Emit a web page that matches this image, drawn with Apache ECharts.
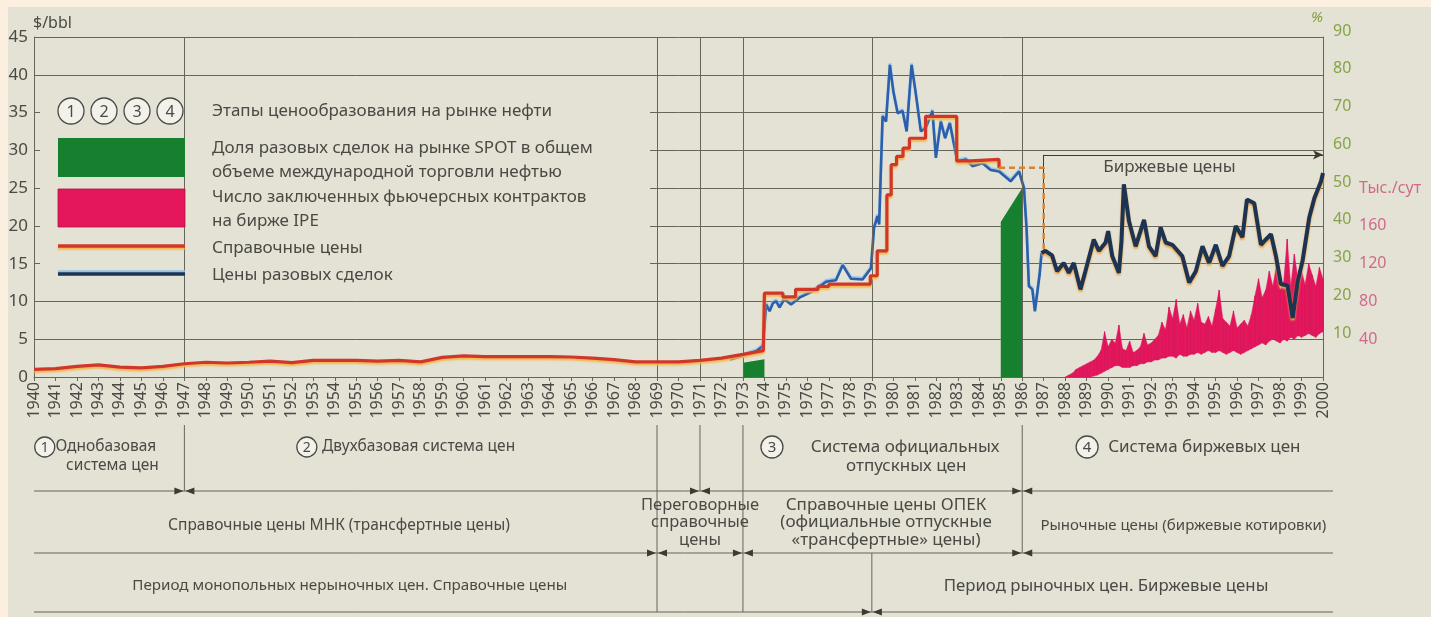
<!DOCTYPE html>
<html>
<head>
<meta charset="utf-8">
<script src="https://cdn.jsdelivr.net/npm/echarts@6/dist/echarts.min.js"></script>
<style>
  html, body { margin: 0; padding: 0; background: #e4e2d5; }
  #chart { width: 1431px; height: 617px; }
</style>
</head>
<body>
<div id="chart"></div>
<script>
// reference (posted) prices, $/bbl
const refPrice = [
  [1940, 1.0], [1941, 1.1], [1942, 1.4], [1943, 1.6], [1944, 1.3], [1945, 1.2], [1946, 1.4],
  [1947, 1.75], [1948, 1.95], [1949, 1.85], [1950, 1.95], [1951, 2.1], [1952, 1.9], [1953, 2.2],
  [1954, 2.2], [1955, 2.2], [1956, 2.1], [1957, 2.2], [1958, 2.0], [1959, 2.6], [1960, 2.8],
  [1961, 2.7], [1962, 2.7], [1963, 2.7], [1964, 2.7], [1965, 2.65], [1966, 2.5], [1967, 2.3],
  [1968, 2.0], [1969, 2.0], [1970, 2.0], [1971, 2.2], [1972, 2.5], [1973, 3.0], [1973.95, 3.5],
  [1974, 11.1], [1974.86, 11.1], [1974.86, 10.6], [1975.45, 10.6], [1975.45, 11.6], [1976.5, 11.6],
  [1976.5, 12.0], [1977, 12.0], [1977, 12.3], [1978.93, 12.3], [1978.93, 13.4], [1979.25, 13.4],
  [1979.25, 16.7], [1979.7, 16.7], [1979.7, 24.1], [1979.9, 24.1], [1979.9, 28.1], [1980.15, 28.1],
  [1980.15, 29.2], [1980.45, 29.2], [1980.45, 30.3], [1980.75, 30.3], [1980.75, 31.6], [1981.5, 31.6],
  [1981.5, 34.5], [1982.95, 34.5], [1982.95, 28.6], [1983.6, 28.6], [1983.6, 28.8], [1984.92, 28.8],
  [1984.92, 27.7]
];
const refDashed = [[1984.92, 27.7], [1987, 27.7], [1987, 16.7]];

// spot prices, $/bbl
const spotEarly = [
  [1972.4, 2.3], [1973, 2.8], [1973.62, 3.4], [1973.93, 4.1], [1974.08, 9.6], [1974.24, 8.7],
  [1974.4, 9.8], [1974.55, 10.0], [1974.7, 9.2], [1974.93, 10.3], [1975.24, 9.6], [1975.63, 10.5],
  [1976, 11.0], [1976.4, 11.6], [1976.87, 12.6], [1977.33, 12.8], [1977.64, 14.8], [1978.03, 13.0],
  [1978.57, 12.9], [1978.96, 14.4], [1979.1, 19.7], [1979.26, 21.3], [1979.34, 20.2], [1979.5, 34.5],
  [1979.66, 33.8], [1979.84, 41.3], [1980, 37.8], [1980.2, 34.9], [1980.43, 35.2], [1980.62, 32.5],
  [1980.85, 41.3], [1981.05, 37.4], [1981.28, 32.5], [1981.51, 33.0], [1981.82, 35.2], [1981.98, 29.0],
  [1982.21, 33.8], [1982.41, 31.6], [1982.63, 33.6], [1982.98, 28.5], [1983.37, 28.8], [1983.68, 27.9],
  [1984.15, 28.3], [1984.53, 27.4], [1984.92, 27.2], [1985.46, 25.9], [1985.85, 27.2], [1986.08, 25.0],
  [1986.2, 19.7], [1986.31, 12.0], [1986.47, 11.6], [1986.59, 8.7], [1986.81, 13.6], [1986.9, 16.4]
];
const spotLate = [
  [1986.9, 16.4], [1987.08, 16.7], [1987.39, 16.1], [1987.62, 14.0], [1987.93, 15.1], [1988.17, 13.8],
  [1988.4, 15.1], [1988.71, 11.6], [1988.94, 14.0], [1989.33, 18.2], [1989.57, 16.7], [1989.88, 17.8],
  [1990, 19.3], [1990.19, 16.0], [1990.5, 13.8], [1990.62, 18.0], [1990.73, 25.5], [1990.97, 20.6],
  [1991.28, 17.3], [1991.67, 20.8], [1991.9, 17.3], [1992.21, 16.0], [1992.44, 19.8], [1992.68, 17.8],
  [1992.99, 17.5], [1993.45, 16.0], [1993.77, 12.5], [1994.08, 14.0], [1994.39, 17.3], [1994.7, 15.1],
  [1995.01, 17.5], [1995.32, 14.7], [1995.63, 16.0], [1995.94, 20.0], [1996.25, 18.5], [1996.46, 23.5],
  [1996.8, 23.0], [1997.11, 17.5], [1997.34, 18.2], [1997.58, 18.9], [1997.81, 16.0], [1998.04, 12.3],
  [1998.35, 12.1], [1998.59, 7.8], [1998.82, 12.6], [1999.05, 15.4], [1999.36, 21.1], [1999.6, 23.7],
  [1999.91, 25.9], [2000, 27.0]
];

// share of SPOT deals in world oil trade, %
const spotShare = [[1973, 3.8], [1974, 4.7], [1980, '-'], [1985, 41], [1986, 50]];

// IPE futures, thousand contracts per day (band low..high), every 2 months from 1988
const ipeStart = 1988;
const ipeHigh = [
  0, 2, 4, 8, 10, 12, 14, 16, 18, 22, 28, 48, 32, 40, 36, 55, 30, 28,
  38, 26, 28, 32, 46, 34, 36, 40, 44, 58, 50, 74, 62, 82, 56, 66, 52, 70,
  60, 78, 58, 56, 64, 54, 72, 92, 62, 58, 54, 70, 52, 56, 60, 54, 66, 86,
  104, 84, 92, 112, 96, 118, 92, 100, 146, 96, 130, 104, 112, 98, 120, 108, 96, 116,
  104
];
const ipeLow = [
  0, 0, 0, 0, 0, 0, 0, 0, 1, 2, 4, 6, 8, 10, 12, 12, 10, 10,
  10, 12, 12, 14, 14, 16, 16, 18, 18, 20, 20, 22, 22, 20, 24, 22, 22, 24,
  24, 26, 24, 26, 28, 26, 26, 28, 26, 24, 26, 28, 26, 24, 26, 28, 30, 32,
  34, 36, 34, 38, 40, 38, 36, 40, 38, 42, 40, 44, 42, 44, 46, 44, 42, 46,
  48
];

// vertical period lines inside the plot
const periodYears = [1947, 1969, 1971, 1973, 1979, 1986];
// "Биржевые цены" bracket
const exchangeBracket = { year: 1987, from: 17, level: 29.4, to: 2000 };

const GRID = '#66655c';
const TEXT = '#4a4944';
const FONT = '"Noto Sans", "DejaVu Sans", sans-serif';
const PINK = '#e4175c';

const ipeDates = ipeHigh.map((_, i) => ipeStart + i / 6);
const ipeData = ipeDates.map((d, i) => [d, ipeLow[i], ipeHigh[i], i]);

// one band slice between two neighbouring samples, plus a hair line
function renderIpe(params, api) {
  const i = api.value(3);
  const a0 = api.coord([api.value(0), api.value(1)]);
  const a1 = api.coord([api.value(0), api.value(2)]);
  const children = [{
    type: 'line', shape: { x1: a0[0], y1: a0[1], x2: a1[0], y2: a1[1] },
    style: { stroke: '#d3145a', lineWidth: 0.8 }
  }];
  if (i < ipeData.length - 1) {
    const n = ipeData[i + 1];
    const b0 = api.coord([n[0], n[1]]);
    const b1 = api.coord([n[0], n[2]]);
    children.unshift({
      type: 'polygon', shape: { points: [a0, a1, b1, b0] },
      style: { fill: PINK, stroke: PINK, lineWidth: 0.5 }
    });
  }
  return { type: 'group', children: children };
}

const chart = echarts.init(document.getElementById('chart'));

const option = {
  animation: false,
  backgroundColor: '#e4e2d5',
  textStyle: { fontFamily: FONT },
  grid: { left: 34, right: 108, top: 37, bottom: 240 },
  xAxis: {
    type: 'value', min: 1940, max: 2000, interval: 1,
    axisLine: { lineStyle: { color: GRID } },
    axisTick: { length: 4, lineStyle: { color: GRID } },
    splitLine: { show: false },
    axisLabel: { rotate: 90, margin: 5, color: TEXT, fontSize: 16, formatter: v => String(v) }
  },
  yAxis: [
    {
      type: 'value', min: 0, max: 45, interval: 5,
      axisLine: { show: true, lineStyle: { color: GRID } },
      axisTick: { show: true, inside: true, length: 5, lineStyle: { color: GRID } },
      splitLine: { lineStyle: { color: GRID, width: 1 } },
      axisLabel: { color: TEXT, fontSize: 17, margin: 6 }
    },
    {
      type: 'value', min: 0, max: 90, interval: 10, position: 'right',
      name: '%', nameLocation: 'end', nameGap: 12,
      nameTextStyle: { color: '#7fa23f', fontSize: 15, fontStyle: 'italic', align: 'right' },
      axisLine: { show: true, lineStyle: { color: GRID } },
      axisTick: { show: false },
      splitLine: { show: false },
      axisLabel: { color: '#84a544', fontSize: 16, margin: 10, verticalAlign: 'bottom', lineHeight: 12,
        formatter: v => (v === 0 ? '' : String(v)) }
    },
    {
      type: 'value', min: 0, max: 360, interval: 40, position: 'right', offset: 26,
      axisLine: { show: false }, axisTick: { show: false }, splitLine: { show: false },
      axisLabel: { color: '#cf6a8c', fontSize: 16, margin: 10,
        formatter: v => (v === 200 ? 'Тыс./сут' : (v > 0 && v < 200 ? String(v) : '')) }
    }
  ],
  series: [
    {
      name: 'spot share', type: 'line', yAxisIndex: 1, data: spotShare,
      symbol: 'none', connectNulls: false, z: 2,
      lineStyle: { width: 0 },
      areaStyle: { color: '#17802e', opacity: 1 },
      markLine: {
        silent: true, symbol: 'none', label: { show: false },
        lineStyle: { color: GRID, type: 'solid', width: 1 },
        data: periodYears.map(y => ({ xAxis: y }))
      }
    },
    {
      name: 'ipe', type: 'custom', yAxisIndex: 2, z: 3,
      data: ipeData, encode: { x: 0, y: [1, 2] },
      renderItem: renderIpe
    },
    {
      name: 'spot early', type: 'line', data: spotEarly, symbol: 'none', z: 4,
      lineStyle: { color: '#2b5fab', width: 2.6, shadowColor: '#8fc3e4', shadowOffsetY: -1.5, shadowBlur: 1 }
    },
    {
      name: 'reference', type: 'line', data: refPrice, symbol: 'none', z: 5,
      lineStyle: { color: '#d0372a', width: 3.2, shadowColor: '#f2b64a', shadowOffsetY: 2, shadowBlur: 2 }
    },
    {
      name: 'reference dashed', type: 'line', data: refDashed, symbol: 'none', z: 5,
      lineStyle: { color: '#d9822f', width: 2.4, type: [6, 4] },
      markLine: {
        silent: true, symbol: 'none', label: { show: false },
        lineStyle: { color: '#3b3a35', type: 'solid', width: 1 },
        data: [
          [{ coord: [exchangeBracket.year, exchangeBracket.from] }, { coord: [exchangeBracket.year, exchangeBracket.level] }],
          [{ coord: [exchangeBracket.year, exchangeBracket.level] },
           { coord: [exchangeBracket.to, exchangeBracket.level], symbol: 'arrow', symbolSize: [7, 10] }]
        ]
      }
    },
    {
      name: 'spot late', type: 'line', data: spotLate, symbol: 'none', z: 6,
      lineStyle: { color: '#1d3352', width: 4, shadowColor: '#eda442', shadowOffsetY: 2, shadowBlur: 2 }
    }
  ]
};

chart.setOption(option);

// legend, captions and the period table below the axis
function buildGraphics() {
  const P = (yr, v) => chart.convertToPixel({ gridIndex: 0 }, [yr, v]);
  const X = yr => P(yr, 0)[0];
  const g = [];
  const txt = (text, x, y, size, align, extra) => g.push({
    type: 'text', x: x, y: y, z: 20,
    style: Object.assign({ text: text, font: size + 'px ' + FONT, fill: TEXT, align: align || 'left', verticalAlign: 'middle' }, extra || {})
  });
  const circ = (cx, cy, r, label, size) => {
    g.push({ type: 'circle', z: 20, shape: { cx: cx, cy: cy, r: r }, style: { fill: '#f3f2ea', stroke: '#4a4944', lineWidth: 1.3 } });
    txt(label, cx, cy + 1, size, 'center');
  };
  const line = (x1, y1, x2, y2) => g.push({ type: 'line', z: 20, shape: { x1: x1, y1: y1, x2: x2, y2: y2 }, style: { stroke: GRID, lineWidth: 1 } });
  const arrows = (x, y) => {
    g.push({ type: 'polygon', z: 21, shape: { points: [[x - 10, y - 3.5], [x - 1, y], [x - 10, y + 3.5]] }, style: { fill: '#3b3a35' } });
    g.push({ type: 'polygon', z: 21, shape: { points: [[x + 10, y - 3.5], [x + 1, y], [x + 10, y + 3.5]] }, style: { fill: '#3b3a35' } });
  };

  // paper edges
  g.push({ type: 'rect', z: 30, shape: { x: 0, y: 0, width: 1431, height: 7 }, style: { fill: '#fcefdf' } });
  g.push({ type: 'rect', z: 30, shape: { x: 0, y: 0, width: 8, height: 617 }, style: { fill: '#fcefdf' } });

  // axis unit
  txt('$/bbl', 33, 23, 16);

  // legend box hides the grid lines behind it
  const x0 = X(1940);
  g.push({ type: 'rect', z: 1, shape: { x: x0 + 6, y: 80, width: X(1969) - 7 - x0 - 6, height: 209 }, style: { fill: '#e4e2d5' } });

  [1, 2, 3, 4].forEach((n, i) => circ(71 + i * 33, 111, 13, String(n), 16));
  g.push({ type: 'rect', z: 20, shape: { x: 58, y: 138, width: 127, height: 39 }, style: { fill: '#17802e' } });
  g.push({ type: 'rect', z: 20, shape: { x: 58, y: 189, width: 127, height: 38 }, style: { fill: PINK, stroke: '#b0123f', lineWidth: 0.8 } });
  g.push({ type: 'line', z: 20, shape: { x1: 58, y1: 246, x2: 185, y2: 246 },
    style: { stroke: '#d0372a', lineWidth: 3.5, shadowColor: '#f2b64a', shadowOffsetY: 2, shadowBlur: 2 } });
  g.push({ type: 'line', z: 20, shape: { x1: 58, y1: 274, x2: 185, y2: 274 },
    style: { stroke: '#1d3352', lineWidth: 3.5, shadowColor: '#8fc3e4', shadowOffsetY: -2, shadowBlur: 1 } });

  const lx = 212;
  txt('Этапы ценообразования на рынке нефти', lx, 111, 17);
  txt('Доля разовых сделок на рынке SPOT в общем', lx, 148, 17);
  txt('объеме международной торговли нефтью', lx, 172, 17);
  txt('Число заключенных фьючерсных контрактов', lx, 197, 17);
  txt('на бирже IPE', lx, 221, 17);
  txt('Справочные цены', lx, 248, 17);
  txt('Цены разовых сделок', lx, 275, 17);

  const ex = P(1992.85, 27.8);
  txt('Биржевые цены', ex[0], ex[1], 17, 'center');

  // period table
  const rows = [491, 553, 612];
  const xEnd = X(2000) + 10;
  rows.forEach(y => line(x0, y, xEnd, y));
  line(X(1947), 425, X(1947), rows[0]);
  line(X(1969), 425, X(1969), rows[2]);
  line(X(1971), 425, X(1971), rows[0]);
  line(X(1973), 425, X(1973), rows[2]);
  line(X(1979), rows[1], X(1979), rows[2]);
  line(X(1986), 425, X(1986), rows[1]);
  [1947, 1971, 1986].forEach(yr => arrows(X(yr), rows[0]));
  [1969, 1973, 1986].forEach(yr => arrows(X(yr), rows[1]));
  arrows(X(1979), rows[2]);

  const fs = 15.5;   // left part of the table
  const fr = 17;     // right part reads a little larger
  circ(X(1940.5), 447, 10, '1', 14);
  txt('Однобазовая', X(1941.0), 447, fs);
  txt('система цен', X(1943.65), 466, fs, 'center');
  circ(X(1952.7), 447, 10, '2', 14);
  txt('Двухбазовая система цен', X(1953.4), 447, fs);
  circ(X(1974.35), 447, 11, '3', 15);
  txt('Система официальных', X(1980.55), 447, fr, 'center');
  txt('отпускных цен', X(1980.6), 466, fr, 'center');
  circ(X(1989.02), 447, 11, '4', 15);
  txt('Система биржевых цен', X(1990.0), 447, fr);

  txt('Справочные цены МНК (трансфертные цены)', X(1954.2), 526, fs, 'center');
  txt('Переговорные', X(1971.0), 505, 16.5, 'center');
  txt('справочные', X(1971.0), 522, 16.5, 'center');
  txt('цены', X(1971.0), 540, 16.5, 'center');
  txt('Справочные цены ОПЕК', X(1979.66), 505, fr, 'center');
  txt('(официальные отпускные', X(1979.66), 522, fr, 'center');
  txt('«трансфертные» цены)', X(1979.66), 540, fr, 'center');
  txt('Рыночные цены (биржевые котировки)', X(1993.5), 526, 15, 'center', { fontStyle: 'italic' });

  txt('Период монопольных нерыночных цен. Справочные цены', X(1954.7), 586, 15.2, 'center');
  txt('Период рыночных цен. Биржевые цены', X(1989.9), 586, 16.8, 'center');

  return g;
}

chart.setOption({ graphic: buildGraphics() });
</script>
</body>
</html>
